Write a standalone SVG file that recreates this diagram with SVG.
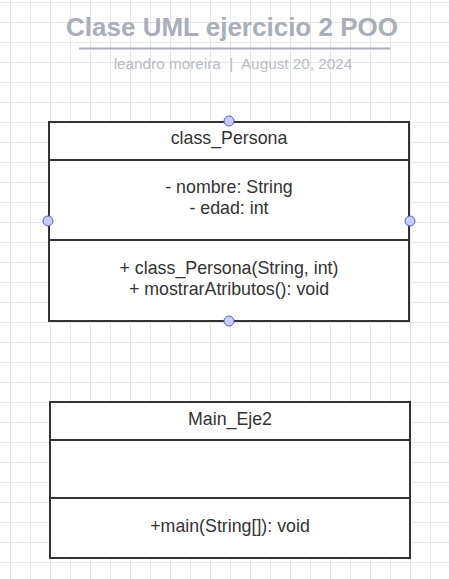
<svg xmlns="http://www.w3.org/2000/svg" width="449" height="579" viewBox="0 0 449 579">
<defs>
<pattern id="grid" x="10" y="2" width="20" height="20" patternUnits="userSpaceOnUse">
<path d="M0 0.5H20M0.5 0V20" fill="none" stroke="#e6e6e6" stroke-width="1"/>
</pattern>
<style>
.box{fill:#fff;stroke:#333;stroke-width:2}
.div{stroke:#333;stroke-width:2}
.t{font-family:"Liberation Sans",Arial,sans-serif;font-size:17.8px;fill:#333;text-anchor:middle}
.h{fill:#c9ccf8;stroke:#5b5fe0;stroke-width:1}
</style>
</defs>
<rect width="449" height="579" fill="#fff"/>
<rect width="449" height="579" fill="url(#grid)"/>
<g id="title">
<text x="232" y="36" font-family="Liberation Sans,Arial,sans-serif" font-size="26" font-weight="bold" fill="#a9aeb8" text-anchor="middle">Clase UML ejercicio 2 POO</text>
<line x1="79" y1="48.5" x2="390" y2="48.5" stroke="#a9aeb8" stroke-width="2"/>
<text x="233" y="69" font-family="Liberation Sans,Arial,sans-serif" font-size="15.3" fill="#b8bcc4" text-anchor="middle" style="white-space:pre">leandro moreira  |  August 20, 2024</text>
</g>
<g id="class_Persona">
<rect class="box" x="49" y="122" width="360" height="199"/>
<line class="div" x1="49" y1="160" x2="409" y2="160"/>
<line class="div" x1="49" y1="240" x2="409" y2="240"/>
<text class="t" x="229" y="144">class_Persona</text>
<text class="t" x="229" y="193">- nombre: String</text>
<text class="t" x="229" y="214">- edad: int</text>
<text class="t" x="229" y="274">+ class_Persona(String, int)</text>
<text class="t" x="229" y="295">+ mostrarAtributos(): void</text>
<circle class="h" cx="229" cy="121" r="5"/>
<circle class="h" cx="48" cy="221" r="5"/>
<circle class="h" cx="410" cy="221" r="5"/>
<circle class="h" cx="229" cy="321" r="5"/>
</g>
<g id="Main_Eje2">
<rect class="box" x="50" y="402" width="360" height="156"/>
<line class="div" x1="50" y1="440" x2="410" y2="440"/>
<line class="div" x1="50" y1="498" x2="410" y2="498"/>
<text class="t" x="230" y="425">Main_Eje2</text>
<text class="t" x="230" y="532">+main(String[]): void</text>
</g>
<g id="connectors"/>
</svg>
